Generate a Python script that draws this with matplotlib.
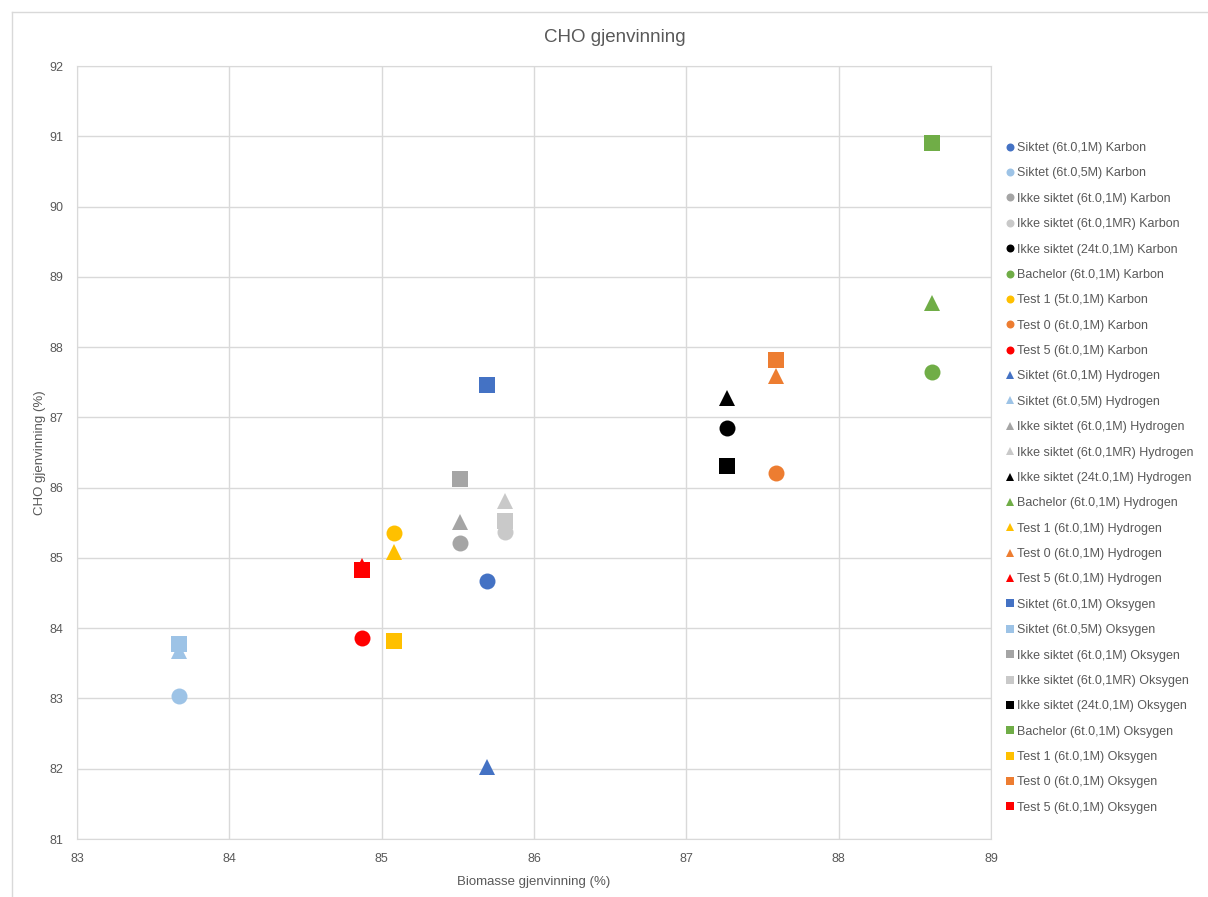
import matplotlib
matplotlib.use("Agg")
import matplotlib.pyplot as plt
from matplotlib.lines import Line2D

plt.rcParams['font.family'] = ['Liberation Sans', 'DejaVu Sans']

groups = ["Siktet (6t.0,1M)", "Siktet (6t.0,5M)", "Ikke siktet (6t.0,1M)",
          "Ikke siktet (6t.0,1MR)", "Ikke siktet (24t.0,1M)", "Bachelor (6t.0,1M)",
          "Test 1 (5t.0,1M)", "Test 0 (6t.0,1M)", "Test 5 (6t.0,1M)"]
groups_h = ["Siktet (6t.0,1M)", "Siktet (6t.0,5M)", "Ikke siktet (6t.0,1M)",
            "Ikke siktet (6t.0,1MR)", "Ikke siktet (24t.0,1M)", "Bachelor (6t.0,1M)",
            "Test 1 (6t.0,1M)", "Test 0 (6t.0,1M)", "Test 5 (6t.0,1M)"]
colors = ["#4472C4", "#9DC3E6", "#A5A5A5", "#C9C9C9", "#000000",
          "#70AD47", "#FFC000", "#ED7D31", "#FF0000"]

biomasse = [85.69, 83.67, 85.515, 85.81, 87.27, 88.61, 85.08, 87.59, 84.87]
karbon = [84.67, 83.035, 85.21, 85.37, 86.85, 87.645, 85.355, 86.21, 83.86]
hydrogen = [82.03, 83.675, 85.51, 85.81, 87.275, 88.63, 85.08, 87.59, 84.885]
oksygen = [87.46, 83.775, 86.12, 85.525, 86.31, 90.905, 83.82, 87.82, 84.83]

W, H = 1208, 897
fig = plt.figure(figsize=(W/100, H/100), dpi=100)
ax = fig.add_axes([77/W, 1-839/H, (991-77)/W, (839-66)/H])

handles = []
for i in range(9):
    h, = ax.plot(biomasse[i], karbon[i], 'o', color=colors[i], ms=11.5, mew=0,
                 label=f"{groups[i]} Karbon", zorder=3)
    handles.append(h)
for i in range(9):
    h, = ax.plot(biomasse[i], hydrogen[i], '^', color=colors[i], ms=12, mew=0,
                 label=f"{groups_h[i]} Hydrogen", zorder=3)
    handles.append(h)
for i in range(9):
    h, = ax.plot(biomasse[i], oksygen[i], 's', color=colors[i], ms=11, mew=0,
                 label=f"{groups_h[i]} Oksygen", zorder=3)
    handles.append(h)

ax.set_xlim(83, 89)
ax.set_ylim(81, 92)
ax.set_xticks(range(83, 90))
ax.set_yticks(range(81, 93))
ax.grid(True, color="#D9D9D9", lw=1)
ax.set_axisbelow(True)
for s in ax.spines.values():
    s.set_color("#D9D9D9")
ax.tick_params(length=0, colors="#595959", labelsize=9, pad=10)
ax.set_xlabel("Biomasse gjenvinning (%)", fontsize=9.5, color="#595959", labelpad=8)
ax.set_ylabel("CHO gjenvinning (%)", fontsize=9.5, color="#595959", labelpad=2)

fig.text(615/W, 1-38/H, "CHO gjenvinning", ha='center', va='center',
         fontsize=13.5, color="#595959")

leg = fig.legend(handles=handles, loc='upper left', bbox_to_anchor=(1002/W, 1-137/H),
                 frameon=False, fontsize=9, labelspacing=1.07, handlelength=0.55,
                 handletextpad=0.25, markerscale=0.5, labelcolor="#595959",
                 borderaxespad=0)

# outer chart border
fig.add_artist(Line2D([12/W, 12/W], [0, 1-12/H], color="#D9D9D9", lw=1))
fig.add_artist(Line2D([12/W, 1], [1-12/H, 1-12/H], color="#D9D9D9", lw=1))

fig.savefig("out.png", dpi=100, facecolor="white")
